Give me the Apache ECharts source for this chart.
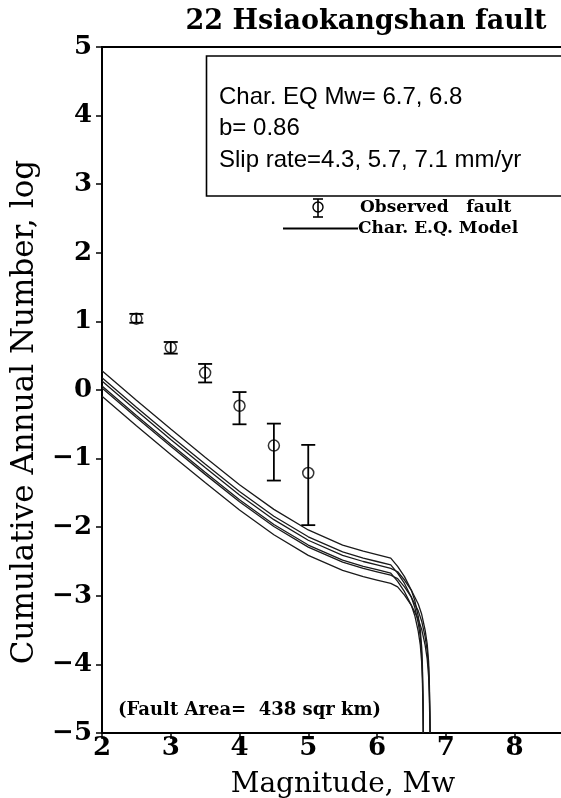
<!DOCTYPE html>
<html>
<head>
<meta charset="utf-8">
<script src="https://cdn.jsdelivr.net/npm/echarts@6/dist/echarts.min.js"></script>
<style>html,body{margin:0;padding:0;background:#fff;}#c{width:561px;height:798px;}</style>
</head>
<body>
<div id="c"></div>
<script>
// ---- data ----
const titleText = '22 Hsiaokangshan fault';
const xTicks = [2, 3, 4, 5, 6, 7, 8, 9, 10];
const yTicks = [-5, -4, -3, -2, -1, 0, 1, 2, 3, 4, 5];

// Observed fault: magnitude, log cumulative number, error bar upper / lower
const obsMag  = [2.5, 3.0, 3.5, 4.0, 4.5, 5.0];
const obsLog  = [1.04, 0.62, 0.25, -0.23, -0.81, -1.21];
const obsHigh = [1.11, 0.70, 0.38, -0.03, -0.49, -0.80];
const obsLow  = [0.98, 0.53, 0.11, -0.50, -1.32, -1.97];

// Char. EQ model curves (Mw 6.7 / 6.8, slip 4.3 / 5.7 / 7.1 mm/yr)
const modelA71 = [[2.0,0.28],[2.5,-0.15],[3.0,-0.57],[3.5,-0.98],[4.0,-1.38],[4.5,-1.74],[5.0,-2.04],[5.5,-2.26],[5.8,-2.35],[6.0,-2.40],[6.2,-2.45],[6.3,-2.57],[6.4,-2.72],[6.5,-2.92],[6.55,-3.07],[6.6,-3.30],[6.63,-3.50],[6.65,-3.75],[6.66,-4.00],[6.67,-4.50],[6.675,-5.0]];
const modelA57 = [[2.0,0.18],[2.5,-0.25],[3.0,-0.67],[3.5,-1.08],[4.0,-1.48],[4.5,-1.84],[5.0,-2.14],[5.5,-2.36],[5.8,-2.45],[6.0,-2.50],[6.2,-2.55],[6.3,-2.67],[6.4,-2.82],[6.5,-3.02],[6.55,-3.17],[6.6,-3.40],[6.63,-3.60],[6.65,-3.85],[6.66,-4.10],[6.67,-4.60],[6.674,-5.0]];
const modelA43 = [[2.0,0.06],[2.5,-0.37],[3.0,-0.79],[3.5,-1.20],[4.0,-1.60],[4.5,-1.96],[5.0,-2.26],[5.5,-2.48],[5.8,-2.57],[6.0,-2.62],[6.2,-2.67],[6.3,-2.79],[6.4,-2.94],[6.5,-3.14],[6.55,-3.29],[6.6,-3.52],[6.63,-3.72],[6.65,-3.97],[6.66,-4.22],[6.67,-4.72],[6.672,-5.0]];
const modelB71 = [[2.0,0.13],[2.5,-0.30],[3.0,-0.72],[3.5,-1.13],[4.0,-1.53],[4.5,-1.89],[5.0,-2.19],[5.5,-2.41],[5.8,-2.50],[6.0,-2.55],[6.2,-2.60],[6.3,-2.65],[6.4,-2.77],[6.5,-2.92],[6.6,-3.12],[6.65,-3.27],[6.7,-3.50],[6.73,-3.70],[6.75,-3.95],[6.76,-4.20],[6.77,-4.70],[6.774,-5.0]];
const modelB57 = [[2.0,0.03],[2.5,-0.40],[3.0,-0.82],[3.5,-1.23],[4.0,-1.63],[4.5,-1.99],[5.0,-2.29],[5.5,-2.51],[5.8,-2.60],[6.0,-2.65],[6.2,-2.70],[6.3,-2.75],[6.4,-2.87],[6.5,-3.02],[6.6,-3.22],[6.65,-3.37],[6.7,-3.60],[6.73,-3.80],[6.75,-4.05],[6.76,-4.30],[6.77,-4.80],[6.772,-5.0]];
const modelB43 = [[2.0,-0.09],[2.5,-0.52],[3.0,-0.94],[3.5,-1.35],[4.0,-1.75],[4.5,-2.11],[5.0,-2.41],[5.5,-2.63],[5.8,-2.72],[6.0,-2.77],[6.2,-2.82],[6.3,-2.87],[6.4,-2.99],[6.5,-3.14],[6.6,-3.34],[6.65,-3.49],[6.7,-3.72],[6.73,-3.92],[6.75,-4.17],[6.76,-4.42],[6.77,-4.92],[6.771,-5.0]];

const infoLines = ['Char. EQ Mw= 6.7, 6.8', 'b= 0.86', 'Slip rate=4.3, 5.7, 7.1 mm/yr'];
const legendObserved = 'Observed   fault';
const legendModel = 'Char. E.Q. Model';
const areaText = '(Fault Area=  438 sqr km)';
const xName = 'Magnitude, Mw';
const yName = 'Cumulative Annual Number, log';

// ---- chart ----
const SERIF = "'DejaVu Serif', serif";
const SANS = "'Liberation Sans', Arial, sans-serif";
const chart = echarts.init(document.getElementById('c'));
const minus = v => (v < 0 ? '\u2212' + Math.abs(v) : String(v));

const models = [modelA71, modelA57, modelA43, modelB71, modelB57, modelB43];
const lineSeries = models.map(d => ({
  type: 'line', data: d, showSymbol: false, symbol: 'none', silent: true,
  lineStyle: { color: '#1a1a1a', width: 1.3 }, z: 3
}));

const errData = obsMag.map((m, i) => [m, obsLow[i], obsHigh[i]]);
const ptData = obsMag.map((m, i) => [m, obsLog[i]]);

chart.setOption({
  animation: false,
  backgroundColor: '#fff',
  grid: { left: 102, top: 47, right: -91, bottom: 65, outerBoundsMode: 'none', containLabel: false, show: true, borderColor: '#000', borderWidth: 2, backgroundColor: 'transparent' },
  xAxis: {
    type: 'value', min: xTicks[0], max: xTicks[xTicks.length - 1], interval: 1,
    axisLine: { show: true, onZero: false, lineStyle: { color: '#000', width: 2 } },
    axisTick: { show: true, length: 6, lineStyle: { color: '#000', width: 1.5 } },
    axisLabel: { color: '#000', fontFamily: SERIF, fontWeight: 'bold', fontSize: 26, margin: 2 },
    splitLine: { show: false }
  },
  yAxis: {
    type: 'value', min: yTicks[0], max: yTicks[yTicks.length - 1], interval: 1,
    axisLine: { show: true, onZero: false, lineStyle: { color: '#000', width: 2 } },
    axisTick: { show: true, length: 6, lineStyle: { color: '#000', width: 1.5 } },
    axisLabel: { color: '#000', fontFamily: SERIF, fontWeight: 'bold', fontSize: 26, margin: 10, formatter: minus },
    splitLine: { show: false }
  },
  series: lineSeries.concat([
    {
      type: 'custom', data: errData, z: 4, silent: true,
      renderItem: function (params, api) {
        const x = api.value(0);
        const pLo = api.coord([x, api.value(1)]);
        const pHi = api.coord([x, api.value(2)]);
        const w = 7;
        const st = { stroke: '#000', lineWidth: 1.8, fill: null };
        return { type: 'group', children: [
          { type: 'line', shape: { x1: pHi[0], y1: pHi[1], x2: pLo[0], y2: pLo[1] }, style: st },
          { type: 'line', shape: { x1: pHi[0] - w, y1: pHi[1], x2: pHi[0] + w, y2: pHi[1] }, style: st },
          { type: 'line', shape: { x1: pLo[0] - w, y1: pLo[1], x2: pLo[0] + w, y2: pLo[1] }, style: st }
        ] };
      }
    },
    {
      type: 'scatter', data: ptData, symbol: 'circle', symbolSize: 11, z: 5, silent: true,
      itemStyle: { color: 'rgba(0,0,0,0)', borderColor: '#000', borderWidth: 1.5 }
    }
  ]),
  graphic: [
    { type: 'text', x: 366, y: 22, style: { text: titleText, font: 'bold 27px ' + SERIF, fill: '#000', textAlign: 'center', textVerticalAlign: 'middle' } },
    { type: 'rect', shape: { x: 206.5, y: 56, width: 420, height: 140 }, style: { fill: '#fff', stroke: '#000', lineWidth: 1.6 }, z: 10 },
    { type: 'text', x: 219, y: 97, z: 11, style: { text: infoLines[0], font: '24px ' + SANS, fill: '#000', textVerticalAlign: 'middle' } },
    { type: 'text', x: 219, y: 128, z: 11, style: { text: infoLines[1], font: '24px ' + SANS, fill: '#000', textVerticalAlign: 'middle' } },
    { type: 'text', x: 219, y: 160, z: 11, style: { text: infoLines[2], font: '24px ' + SANS, fill: '#000', textVerticalAlign: 'middle' } },
    // legend
    { type: 'line', shape: { x1: 318, y1: 199, x2: 318, y2: 217 }, style: { stroke: '#000', lineWidth: 1.6 }, z: 11 },
    { type: 'line', shape: { x1: 313, y1: 199, x2: 323, y2: 199 }, style: { stroke: '#000', lineWidth: 1.6 }, z: 11 },
    { type: 'line', shape: { x1: 313, y1: 217, x2: 323, y2: 217 }, style: { stroke: '#000', lineWidth: 1.6 }, z: 11 },
    { type: 'circle', shape: { cx: 318, cy: 207, r: 5 }, style: { fill: 'none', stroke: '#000', lineWidth: 1.4 }, z: 11 },
    { type: 'text', x: 360, y: 208, z: 11, style: { text: legendObserved, font: 'bold 17px ' + SERIF, fill: '#000', textVerticalAlign: 'middle' } },
    { type: 'line', shape: { x1: 283, y1: 228.5, x2: 358, y2: 228.5 }, style: { stroke: '#000', lineWidth: 2 }, z: 11 },
    { type: 'text', x: 358, y: 229, z: 11, style: { text: legendModel, font: 'bold 17px ' + SERIF, fill: '#000', textVerticalAlign: 'middle' } },
    { type: 'text', x: 118, y: 710, z: 11, style: { text: areaText, font: 'bold 18px ' + SERIF, fill: '#000', textVerticalAlign: 'middle' } },
    { type: 'text', x: 343, y: 785, z: 11, style: { text: xName, font: '28px ' + SERIF, fill: '#000', textAlign: 'center', textVerticalAlign: 'middle' } },
    { type: 'text', x: 25, y: 412, rotation: Math.PI / 2, z: 11, style: { text: yName, font: '31px ' + SERIF, fill: '#000', textAlign: 'center', textVerticalAlign: 'middle' } }
  ]
});
</script>
</body>
</html>
